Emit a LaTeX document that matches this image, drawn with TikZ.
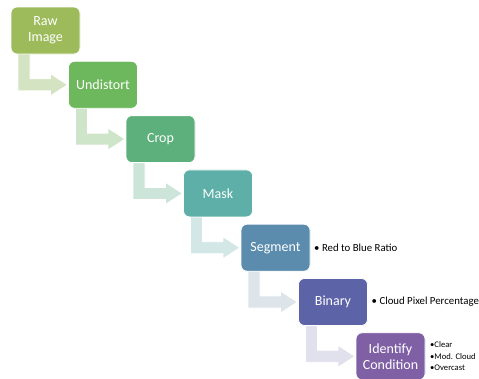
\documentclass[tikz,border=0pt]{standalone}
\usepackage{fontspec}
\setmainfont{Carlito}
\usetikzlibrary{calc}

% step box fills
\definecolor{c1}{HTML}{9DBB5B}
\definecolor{c2}{HTML}{6DB75C}
\definecolor{c3}{HTML}{5DAF7B}
\definecolor{c4}{HTML}{5DAFA7}
\definecolor{c5}{HTML}{5B8CAE}
\definecolor{c6}{HTML}{5C63A7}
\definecolor{c7}{HTML}{7F60A4}
% bent connector fills
\definecolor{a1}{HTML}{D4E3C2}
\definecolor{a2}{HTML}{CFE5CA}
\definecolor{a3}{HTML}{CDE5D9}
\definecolor{a4}{HTML}{D3E8E6}
\definecolor{a5}{HTML}{DDE4EA}
\definecolor{a6}{HTML}{E1E1ED}

\tikzset{
  stepbox/.style={draw=white, line width=0.8pt, rounded corners=6pt,
    minimum width=69pt, minimum height=47pt, inner sep=2pt, outer sep=0pt,
    text=white, align=center, font=\fontsize{14}{16}\selectfont},
  note/.style={anchor=west, inner sep=0pt, font=\fontsize{10.8}{12}\selectfont},
  smallnote/.style={anchor=north west, inner sep=0pt, align=left,
    font=\fontsize{8.6}{11.5}\selectfont},
  bent/.style={draw=white, line width=0.8pt, line join=miter}
}

\begin{document}
\begin{tikzpicture}[x=1pt, y=-1pt]
\useasboundingbox (0,0) rectangle (479,378);

% pipeline steps, placed on a diagonal
\node[stepbox, fill=c1] (b1) at (45.5, 30.5)  {Raw\\Image};
\node[stepbox, fill=c2] (b2) at (103.0, 84.8) {Undistort};
\node[stepbox, fill=c3] (b3) at (160.5, 139.1) {Crop};
\node[stepbox, fill=c4] (b4) at (218.0, 193.4) {Mask};
\node[stepbox, fill=c5] (b5) at (275.5, 247.7) {Segment};
\node[stepbox, fill=c6] (b6) at (333.0, 302.0) {Binary};
\node[stepbox, fill=c7] (b7) at (390.5, 356.3) {Identify\\Condition};

% bent arrows between consecutive steps
\foreach \a/\b/\c in {b1/b2/a1, b2/b3/a2, b3/b4/a3, b4/b5/a4, b5/b6/a5, b6/b7/a6} {
  \filldraw[bent, fill=\c]
    ($(\a.south west)+(7,-1)$) --
    ($(\a.west |- \b.west)+(7,6)$) --
    ($(\b.west)+(-18,6)$) --
    ($(\b.west)+(-18,11)$) --
    ($(\b.west)+(-1,0)$) --
    ($(\b.west)+(-18,-11)$) --
    ($(\b.west)+(-18,-6)$) --
    ($(\a.west |- \b.west)+(19,-6)$) --
    ($(\a.south west)+(19,-1)$) -- cycle;
}

% redraw the steps on top of the arrows
\node[stepbox, fill=c1] at (b1) {Raw\\Image};
\node[stepbox, fill=c2] at (b2) {Undistort};
\node[stepbox, fill=c3] at (b3) {Crop};
\node[stepbox, fill=c4] at (b4) {Mask};
\node[stepbox, fill=c5] at (b5) {Segment};
\node[stepbox, fill=c6] at (b6) {Binary};
\node[stepbox, fill=c7] at (b7) {Identify\\Condition};

% side notes
\node[note] (n5) at ($(b5.east)+(4,0)$) {• Red to Blue Ratio};
\node[note] (n6) at ($(b6.east)+(4,0)$) {• Cloud Pixel Percentage};
\node[smallnote] (n7) at ($(b7.north east)+(5,9)$) {•Clear\\•Mod. Cloud\\•Overcast};
\end{tikzpicture}
\end{document}
